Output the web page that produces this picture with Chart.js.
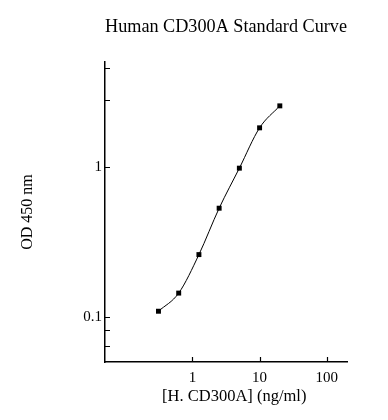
<!DOCTYPE html>
<html>
<head>
<meta charset="utf-8">
<script src="https://cdn.jsdelivr.net/npm/chart.js@4/dist/chart.umd.min.js"></script>
<style>
  html, body { margin: 0; padding: 0; background: #fff; }
  #wrap { width: 388px; height: 420px; }
</style>
</head>
<body>
<div id="wrap"><canvas id="curve" width="388" height="420"></canvas></div>
<script>
// standard concentrations (ng/ml) and measured OD at 450 nm
const conc = [0.3125, 0.625, 1.25, 2.5, 5, 10, 20];
const od = [0.109, 0.144, 0.26, 0.53, 0.98, 1.82, 2.55];

const xTicks = [1, 10, 100];
const yTicks = [0.0635, 0.0814, 0.1, 1, 2.8, 4.56];
const yLabels = { 0.1: '0.1', 1: '1' };

const serif = "'Liberation Serif', 'DejaVu Serif', serif";

// ticks in this chart point into the plot, so draw them ourselves
const innerTicks = {
    id: 'innerTicks',
    afterDraw(chart) {
        const { ctx, chartArea, scales } = chart;
        ctx.save();
        ctx.strokeStyle = '#000';
        ctx.lineWidth = 1.2;
        ctx.beginPath();
        xTicks.forEach(v => {
            const px = Math.round(scales.x.getPixelForValue(v)) + 0.5;
            ctx.moveTo(px, chartArea.bottom);
            ctx.lineTo(px, chartArea.bottom - 5);
        });
        yTicks.forEach(v => {
            const py = Math.round(scales.y.getPixelForValue(v)) + 0.5;
            ctx.moveTo(chartArea.left, py);
            ctx.lineTo(chartArea.left + 5, py);
        });
        ctx.stroke();
        ctx.restore();
    }
};

new Chart(document.getElementById('curve'), {
    type: 'line',
    data: {
        datasets: [{
            data: conc.map((c, i) => ({ x: c, y: od[i] })),
            borderColor: '#000',
            borderWidth: 1,
            backgroundColor: '#000',
            pointStyle: 'rect',
            pointRadius: 3.5,
            pointBorderWidth: 0,
            cubicInterpolationMode: 'monotone',
            fill: false
        }]
    },
    options: {
        responsive: false,
        animation: false,
        layout: { padding: { left: 0, right: 41, top: 0, bottom: 0 } },
        plugins: {
            legend: { display: false },
            tooltip: { enabled: false },
            title: {
                display: true,
                fullSize: false,
                text: 'Human CD300A Standard Curve',
                color: '#000',
                font: { family: serif, size: 18.5, weight: 'normal' },
                padding: { top: 16, bottom: 23.8 }
            }
        },
        scales: {
            x: {
                type: 'logarithmic',
                min: 0.05,
                max: 200,
                afterFit: s => { s.height = 58; },
                afterBuildTicks: s => { s.ticks = xTicks.map(v => ({ value: v })); },
                grid: { display: false, drawTicks: false },
                border: { display: true, color: '#000', width: 1.5 },
                ticks: {
                    color: '#000',
                    padding: 7,
                    autoSkip: false,
                    maxRotation: 0,
                    font: { family: serif, size: 15 },
                    callback: v => String(v)
                },
                title: {
                    display: true,
                    text: '    [H. CD300A] (ng/ml)',
                    color: '#000',
                    font: { family: serif, size: 16.5 },
                    padding: { top: 0, bottom: 13.4 }
                }
            },
            y: {
                type: 'logarithmic',
                min: 0.05,
                max: 5,
                afterFit: s => { s.width = 105; },
                afterBuildTicks: s => { s.ticks = yTicks.map(v => ({ value: v })); },
                grid: { display: false, drawTicks: false },
                border: { display: true, color: '#000', width: 1.5 },
                ticks: {
                    color: '#000',
                    padding: 3,
                    autoSkip: false,
                    font: { family: serif, size: 15 },
                    callback: v => yLabels[v] || ''
                },
                title: {
                    display: true,
                    text: 'OD 450 nm',
                    color: '#000',
                    font: { family: serif, size: 16 },
                    padding: { top: 18, bottom: 0 }
                }
            }
        }
    },
    plugins: [innerTicks]
});
</script>
</body>
</html>
